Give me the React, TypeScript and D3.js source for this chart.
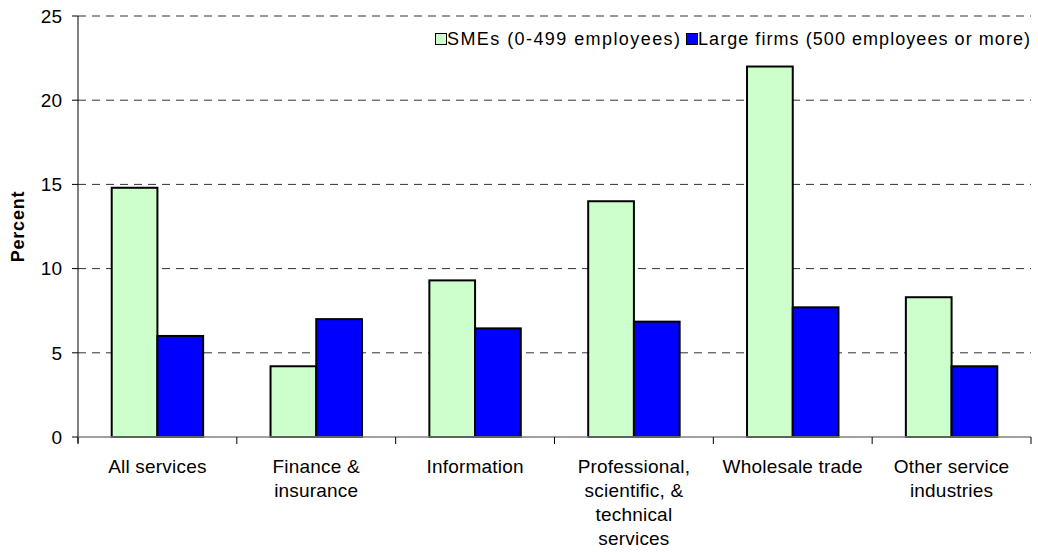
import * as d3 from 'd3';
import React from 'react';

const categories = [
  ['All services'],
  ['Finance &', 'insurance'],
  ['Information'],
  ['Professional,', 'scientific, &', 'technical', 'services'],
  ['Wholesale trade'],
  ['Other service', 'industries'],
];
const seriesNames = ['SMEs (0-499 employees)', 'Large firms (500 employees or more)'];
const smeValues = [14.8, 4.2, 9.3, 14.0, 22.0, 8.3];
const largeValues = [6.0, 7.0, 6.45, 6.85, 7.7, 4.2];
const yTicks = [0, 5, 10, 15, 20, 25];

const colors = ['#CCFFCC', '#0000FF'];
const font = '"Liberation Sans", Arial, sans-serif';

const App: React.FC = () => {
  const width = 1038;
  const height = 552;
  const margin = { top: 16, right: 7, bottom: 115, left: 78 };
  const keys = categories.map((c) => c.join(' '));

  const x = d3
    .scaleBand()
    .domain(keys)
    .range([margin.left, width - margin.right])
    .paddingInner(0)
    .paddingOuter(0);

  const xs = d3
    .scaleBand()
    .domain(['0', '1'])
    .range([0, x.bandwidth()])
    .paddingInner(0)
    .paddingOuter(0.737);

  const y = d3
    .scaleLinear()
    .domain([0, 25])
    .range([height - margin.bottom, margin.top]);

  const series = [smeValues, largeValues];
  const y0 = y(0);

  return (
    <svg
      width={width}
      height={height}
      style={{ position: 'absolute', left: 0, top: 0, background: '#fff' }}
      fontFamily={font}
    >
      {/* gridlines */}
      {yTicks
        .filter((t) => t > 0)
        .map((t) => (
          <line
            key={'g' + t}
            x1={margin.left}
            x2={width - margin.right}
            y1={y(t)}
            y2={y(t)}
            stroke="#333"
            strokeWidth={1}
            strokeDasharray="8,6"
          />
        ))}

      {/* bars */}
      {series.map((vals, si) =>
        vals.map((v, i) => (
          <rect
            key={`b${si}-${i}`}
            x={x(keys[i])! + xs(String(si))!}
            y={y(v)}
            width={xs.bandwidth()}
            height={y0 - y(v)}
            fill={colors[si]}
            stroke="#000"
            strokeWidth={2}
          />
        )),
      )}

      {/* axes */}
      <line x1={margin.left} x2={margin.left} y1={margin.top} y2={y0 + 6} stroke="#000" strokeWidth={1} />
      <line x1={margin.left} x2={width - margin.right} y1={y0} y2={y0} stroke="#808080" strokeWidth={1.5} />
      {yTicks.map((t) => (
        <g key={'yt' + t}>
          <line x1={margin.left - 6} x2={margin.left} y1={y(t)} y2={y(t)} stroke="#000" />
          <text
            x={margin.left - 16}
            y={y(t)}
            dy="0.36em"
            textAnchor="end"
            fontSize={19}
            fill="#000"
          >
            {t}
          </text>
        </g>
      ))}
      {keys.map((k, i) => (
        <line key={'xt' + i} x1={x(k)!} x2={x(k)!} y1={y0} y2={y0 + 7} stroke="#000" />
      ))}
      <line x1={width - margin.right} x2={width - margin.right} y1={y0} y2={y0 + 7} stroke="#000" />

      {/* category labels */}
      {categories.map((lines, i) => (
        <text
          key={'xl' + i}
          x={x(keys[i])! + x.bandwidth() / 2}
          y={473}
          textAnchor="middle"
          fontSize={19}
          letterSpacing={0.2}
          fill="#000"
        >
          {lines.map((l, j) => (
            <tspan key={j} x={x(keys[i])! + x.bandwidth() / 2} dy={j === 0 ? 0 : 24}>
              {l}
            </tspan>
          ))}
        </text>
      ))}

      {/* y title */}
      <text
        transform={`translate(24,${(margin.top + y0) / 2}) rotate(-90)`}
        textAnchor="middle"
        fontSize={18}
        fontWeight="bold"
        letterSpacing={0.8}
        fill="#000"
      >
        Percent
      </text>

      {/* legend */}
      <g>
        <rect x={435.5} y={33.5} width={11} height={11} fill={colors[0]} stroke="#000" strokeWidth={1} />
        <text x={447} y={45} fontSize={18} textLength={233} lengthAdjust="spacing" fill="#000">
          {seriesNames[0]}
        </text>
        <rect x={686.5} y={33.5} width={11} height={11} fill={colors[1]} stroke="#000" strokeWidth={1} />
        <text x={698} y={45} fontSize={18} textLength={332} lengthAdjust="spacing" fill="#000">
          {seriesNames[1]}
        </text>
      </g>
    </svg>
  );
};

export default App;
